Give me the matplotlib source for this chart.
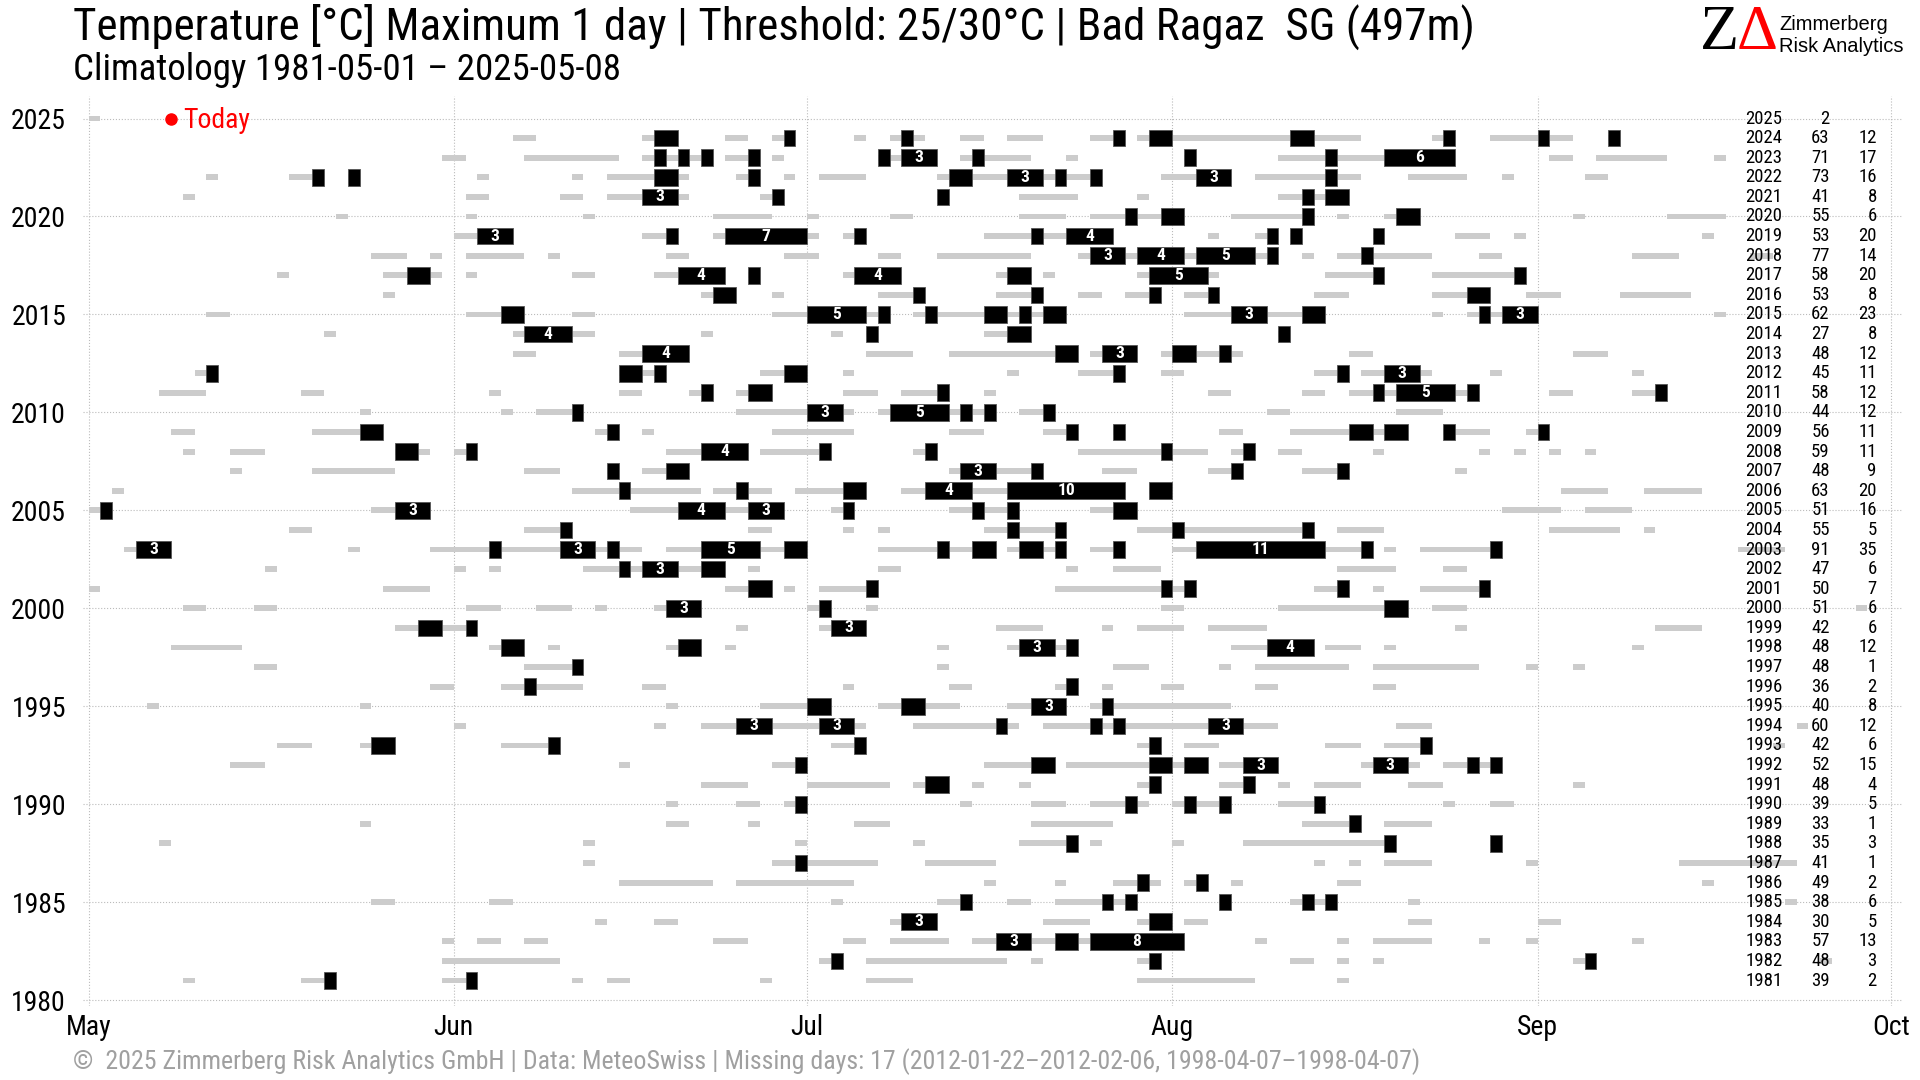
import matplotlib
matplotlib.use("Agg")
import matplotlib.pyplot as plt
from matplotlib import font_manager

# pick a condensed face if there is one
names = {f.name for f in font_manager.fontManager.ttflist}
font = next((n for n in ["Roboto Condensed", "Liberation Sans Narrow", "Roboto"] if n in names), "DejaVu Sans")
plt.rcParams["font.family"] = [font, "DejaVu Sans"]

# day index: 0 = 1 May
month_ticks = [0, 31, 61, 92, 123, 153]
month_labels = ["May", "Jun", "Jul", "Aug", "Sep", "Oct"]

years = list(range(2025, 1980, -1))
n25 = [2, 63, 71, 73, 41, 55, 53, 77, 58, 53, 62, 27, 48, 45, 58, 44, 56, 59, 48, 63, 51, 55, 91,
       47, 50, 51, 42, 48, 48, 36, 40, 60, 42, 52, 48, 39, 33, 35, 41, 49, 38, 30, 57, 48, 39]
n30 = [None, 12, 17, 16, 8, 6, 20, 14, 20, 8, 23, 8, 12, 11, 12, 12, 11, 11, 9, 20, 16, 5, 35,
       6, 7, 6, 6, 12, 1, 2, 8, 12, 6, 15, 4, 5, 1, 3, 1, 2, 6, 5, 13, 3, 2]

# runs of days >= 25 C: (start day, length)
warm_runs = {
    2025: [(0, 1)],
    2024: [(36, 2), (47, 3), (54, 2), (58, 2), (65, 1), (68, 3), (74, 2), (78, 3), (85, 3), (89, 19), (114, 2), (119, 7), (129, 1)],
    2023: [(30, 2), (37, 8), (47, 6), (54, 3), (58, 1), (67, 5), (74, 6), (83, 1), (93, 1), (101, 15), (124, 2), (128, 6), (138, 1)],
    2022: [(10, 1), (17, 3), (22, 1), (33, 1), (41, 1), (44, 7), (55, 2), (59, 1), (62, 4), (72, 14), (91, 6), (99, 9), (112, 5), (120, 1), (127, 2)],
    2021: [(8, 1), (32, 2), (40, 2), (44, 7), (57, 2), (72, 1), (79, 5), (89, 1), (101, 6)],
    2020: [(21, 1), (32, 1), (42, 1), (53, 5), (61, 1), (68, 2), (79, 4), (85, 8), (97, 7), (106, 1), (110, 3), (126, 1), (134, 5)],
    2019: [(31, 5), (47, 3), (53, 9), (64, 2), (76, 11), (95, 1), (99, 2), (102, 1), (109, 1), (116, 3), (121, 1), (137, 1)],
    2018: [(24, 3), (29, 1), (32, 5), (39, 1), (49, 2), (59, 3), (67, 2), (72, 8), (84, 17), (103, 1), (106, 8), (118, 2), (131, 4), (141, 2)],
    2017: [(16, 1), (25, 5), (32, 1), (41, 2), (48, 6), (56, 1), (64, 5), (77, 3), (81, 1), (89, 7), (105, 5), (114, 8)],
    2016: [(25, 1), (52, 3), (58, 1), (67, 4), (77, 4), (84, 2), (88, 3), (93, 3), (104, 3), (114, 5), (122, 3), (130, 6)],
    2015: [(10, 2), (32, 5), (41, 2), (58, 10), (70, 13), (93, 12), (114, 1), (117, 6), (138, 1)],
    2014: [(20, 1), (36, 7), (52, 1), (63, 1), (66, 1), (76, 4), (101, 1)],
    2013: [(36, 2), (45, 6), (66, 4), (73, 11), (85, 4), (91, 7), (107, 2), (126, 3)],
    2012: [(9, 2), (45, 4), (57, 4), (64, 1), (78, 1), (84, 4), (91, 2), (104, 3), (108, 6), (119, 1), (131, 1)],
    2011: [(6, 4), (18, 2), (34, 1), (45, 2), (51, 2), (55, 3), (64, 3), (69, 4), (76, 1), (95, 2), (103, 2), (107, 11), (124, 2), (131, 3)],
    2010: [(23, 1), (35, 1), (38, 4), (55, 10), (67, 10), (79, 3), (100, 2), (111, 4)],
    2009: [(7, 2), (19, 6), (43, 2), (47, 1), (58, 7), (73, 3), (81, 3), (87, 1), (96, 2), (102, 10), (115, 4), (122, 2)],
    2008: [(8, 1), (12, 3), (26, 3), (31, 2), (49, 7), (57, 6), (70, 2), (84, 11), (97, 2), (101, 2), (109, 1), (118, 1), (121, 1), (124, 1), (127, 1)],
    2007: [(12, 1), (19, 7), (37, 3), (44, 1), (47, 4), (73, 8), (86, 3), (95, 3), (103, 4), (116, 1)],
    2006: [(2, 1), (41, 11), (53, 5), (60, 6), (69, 19), (90, 2), (125, 4), (132, 5)],
    2005: [(0, 2), (24, 5), (46, 13), (63, 2), (73, 6), (85, 4), (120, 5), (127, 4)],
    2004: [(17, 2), (37, 4), (56, 2), (64, 1), (67, 1), (76, 7), (89, 15), (106, 4), (124, 6), (132, 1)],
    2003: [(3, 4), (22, 1), (29, 18), (49, 12), (67, 10), (78, 5), (85, 3), (92, 17), (110, 1), (113, 7), (140, 4)],
    2002: [(15, 1), (31, 1), (34, 1), (42, 12), (56, 1), (67, 2), (83, 1), (87, 4), (106, 5), (115, 2)],
    2001: [(0, 1), (25, 4), (54, 4), (59, 1), (62, 5), (82, 12), (104, 3), (109, 1), (113, 6)],
    2000: [(8, 2), (14, 2), (32, 3), (38, 3), (43, 1), (48, 4), (61, 2), (66, 1), (91, 2), (101, 11), (114, 3), (150, 1)],
    1999: [(26, 7), (55, 1), (62, 4), (77, 4), (86, 1), (89, 4), (95, 5), (116, 1), (133, 4)],
    1998: [(7, 6), (34, 3), (39, 1), (49, 3), (54, 1), (72, 1), (78, 6), (97, 7), (105, 3), (110, 1), (131, 1)],
    1997: [(14, 2), (37, 5), (72, 1), (87, 3), (96, 1), (99, 8), (109, 9), (122, 1), (126, 1)],
    1996: [(29, 2), (35, 7), (47, 2), (64, 1), (73, 2), (82, 2), (86, 1), (91, 2), (99, 2), (109, 2)],
    1995: [(5, 1), (23, 1), (49, 1), (57, 6), (67, 7), (78, 5), (85, 12)],
    1994: [(31, 1), (48, 1), (52, 14), (70, 9), (81, 20), (111, 3), (145, 1)],
    1993: [(16, 3), (23, 3), (35, 5), (63, 3), (89, 2), (93, 3), (105, 3), (110, 4), (143, 1)],
    1992: [(12, 3), (45, 1), (58, 3), (76, 6), (83, 12), (96, 5), (108, 5), (115, 5)],
    1991: [(52, 4), (61, 7), (70, 3), (75, 1), (79, 1), (89, 2), (96, 3), (101, 1), (104, 4), (112, 3), (126, 1)],
    1990: [(49, 1), (55, 2), (59, 2), (74, 1), (80, 3), (85, 5), (92, 5), (101, 4), (115, 1), (119, 2)],
    1989: [(23, 1), (49, 2), (56, 1), (65, 3), (80, 7), (103, 5), (110, 4)],
    1988: [(6, 1), (42, 1), (60, 1), (70, 1), (79, 5), (85, 1), (92, 1), (98, 13), (119, 1)],
    1987: [(42, 1), (58, 9), (71, 6), (104, 1), (107, 1), (110, 4), (122, 1), (135, 10)],
    1986: [(45, 8), (55, 10), (76, 1), (82, 1), (87, 4), (93, 2), (97, 1), (106, 2), (137, 1)],
    1985: [(24, 2), (34, 2), (63, 1), (72, 3), (78, 2), (82, 7), (96, 1), (102, 4), (112, 1), (144, 1)],
    1984: [(43, 1), (48, 2), (68, 4), (81, 4), (89, 3), (93, 2), (112, 2), (123, 2)],
    1983: [(30, 1), (33, 2), (37, 2), (53, 3), (64, 2), (68, 5), (75, 18), (99, 1), (106, 1), (109, 5), (118, 1), (122, 1), (131, 1)],
    1982: [(30, 10), (62, 2), (66, 12), (80, 1), (89, 2), (102, 2), (106, 1), (109, 1), (126, 2), (147, 1)],
    1981: [(8, 1), (18, 3), (30, 3), (41, 1), (44, 2), (57, 1), (66, 4), (89, 10), (106, 1)],
}

# runs of days >= 30 C: (start day, length)
hot_runs = {
    2024: [(48, 2), (59, 1), (69, 1), (87, 1), (90, 2), (102, 2), (115, 1), (123, 1), (129, 1)],
    2023: [(48, 1), (50, 1), (52, 1), (56, 1), (67, 1), (69, 3), (75, 1), (93, 1), (105, 1), (110, 6)],
    2022: [(19, 1), (22, 1), (48, 2), (56, 1), (73, 2), (78, 3), (82, 1), (85, 1), (94, 3), (105, 1)],
    2021: [(47, 3), (58, 1), (72, 1), (103, 1), (105, 2)],
    2020: [(88, 1), (91, 2), (103, 1), (111, 2)],
    2019: [(33, 3), (49, 1), (54, 7), (65, 1), (80, 1), (83, 4), (100, 1), (102, 1), (109, 1)],
    2018: [(85, 3), (89, 4), (94, 5), (100, 1), (108, 1)],
    2017: [(27, 2), (50, 4), (56, 1), (65, 4), (78, 2), (90, 5), (109, 1), (121, 1)],
    2016: [(53, 2), (70, 1), (80, 1), (90, 1), (95, 1), (117, 2)],
    2015: [(35, 2), (61, 5), (67, 1), (71, 1), (76, 2), (79, 1), (81, 2), (97, 3), (103, 2), (118, 1), (120, 3)],
    2014: [(37, 4), (66, 1), (78, 2), (101, 1)],
    2013: [(47, 4), (82, 2), (86, 3), (92, 2), (96, 1)],
    2012: [(10, 1), (45, 2), (48, 1), (59, 2), (87, 1), (106, 1), (110, 3)],
    2011: [(52, 1), (56, 2), (72, 1), (109, 1), (111, 5), (117, 1), (133, 1)],
    2010: [(41, 1), (61, 3), (68, 5), (74, 1), (76, 1), (81, 1)],
    2009: [(23, 2), (44, 1), (83, 1), (87, 1), (107, 2), (110, 2), (115, 1), (123, 1)],
    2008: [(26, 2), (32, 1), (52, 4), (62, 1), (71, 1), (91, 1), (98, 1)],
    2007: [(44, 1), (49, 2), (74, 3), (80, 1), (97, 1), (106, 1)],
    2006: [(45, 1), (55, 1), (64, 2), (71, 4), (78, 10), (90, 2)],
    2005: [(1, 1), (26, 3), (50, 4), (56, 3), (64, 1), (75, 1), (78, 1), (87, 2)],
    2004: [(40, 1), (78, 1), (82, 1), (92, 1), (103, 1)],
    2003: [(4, 3), (34, 1), (40, 3), (44, 1), (52, 5), (59, 2), (72, 1), (75, 2), (79, 2), (82, 1), (87, 1), (94, 11), (108, 1), (119, 1)],
    2002: [(45, 1), (47, 3), (52, 2)],
    2001: [(56, 2), (66, 1), (91, 1), (93, 1), (106, 1), (118, 1)],
    2000: [(49, 3), (62, 1), (110, 2)],
    1999: [(28, 2), (32, 1), (63, 3)],
    1998: [(35, 2), (50, 2), (79, 3), (83, 1), (100, 4)],
    1997: [(41, 1)],
    1996: [(37, 1), (83, 1)],
    1995: [(61, 2), (69, 2), (80, 3), (86, 1)],
    1994: [(55, 3), (62, 3), (77, 1), (85, 1), (87, 1), (95, 3)],
    1993: [(24, 2), (39, 1), (65, 1), (90, 1), (113, 1)],
    1992: [(60, 1), (80, 2), (90, 2), (93, 2), (98, 3), (109, 3), (117, 1), (119, 1)],
    1991: [(71, 2), (90, 1), (98, 1)],
    1990: [(60, 1), (88, 1), (93, 1), (96, 1), (104, 1)],
    1989: [(107, 1)],
    1988: [(83, 1), (110, 1), (119, 1)],
    1987: [(60, 1)],
    1986: [(89, 1), (94, 1)],
    1985: [(74, 1), (86, 1), (88, 1), (96, 1), (103, 1), (105, 1)],
    1984: [(69, 3), (90, 2)],
    1983: [(77, 3), (82, 2), (85, 8)],
    1982: [(63, 1), (90, 1), (127, 1)],
    1981: [(20, 1), (32, 1)],
}

today_day = 7
today_year = 2025

fig = plt.figure(figsize=(19.2, 10.8), dpi=100)
ax = fig.add_axes([82.7 / 1920, 74 / 1080, 1820 / 1920, 910 / 1080])

for yr, runs in warm_runs.items():
    for start, length in runs:
        ax.barh(yr, length, left=start, height=0.3, color="#cccccc", zorder=2)

for yr, runs in hot_runs.items():
    for start, length in runs:
        ax.barh(yr, length, left=start, height=0.85, color="black",
                edgecolor="#555555", linewidth=0.6, zorder=3)
        if length >= 3:
            ax.text(start + length / 2, yr, str(length), color="white", ha="center",
                    va="center", fontsize=12.5, fontweight="bold", zorder=4)

# summary table on the right
for yr, a, b in zip(years, n25, n30):
    ax.text(143.8, yr, str(yr), ha="right", va="center", fontsize=13.5, zorder=5)
    ax.text(147.8, yr, str(a), ha="right", va="center", fontsize=13.5, zorder=5)
    if b is not None:
        ax.text(151.8, yr, str(b), ha="right", va="center", fontsize=13.5, zorder=5)

ax.plot(today_day, today_year, "o", color="red", ms=8, zorder=5)
ax.text(today_day + 1.0, today_year - 0.1, "Today", color="red", fontsize=20, va="center", zorder=5)

ax.set_xlim(-0.5, 154)
ax.set_ylim(1979.7, 2026.15)
ax.set_xticks(month_ticks)
ax.set_xticklabels(month_labels)
ax.set_yticks(range(1980, 2026, 5))
ax.tick_params(axis="both", length=0, labelsize=20)
ax.tick_params(axis="y", pad=12)
ax.tick_params(axis="x", pad=6)
ax.grid(color="#bbbbbb", linestyle=":", linewidth=0.8, zorder=0)
ax.set_axisbelow(True)
for s in ax.spines.values():
    s.set_visible(False)

fig.text(73 / 1920, 1 - 27 / 1080, "Temperature [°C] Maximum 1 day | Threshold: 25/30°C | Bad Ragaz  SG (497m)",
         fontsize=32.4, va="center")
fig.text(73 / 1920, 1 - 70 / 1080, "Climatology 1981-05-01 – 2025-05-08", fontsize=26.6, va="center")
fig.text(73 / 1920, 1 - 1062 / 1080,
         "©  2025 Zimmerberg Risk Analytics GmbH | Data: MeteoSwiss | Missing days: 17 "
         "(2012-01-22–2012-02-06, 1998-04-07–1998-04-07)",
         fontsize=18.6, color="#a0a0a0", va="center")

# logo
fig.text(1700 / 1920, 1 - 34 / 1080, "Z", family=["Liberation Serif", "DejaVu Serif"],
         fontsize=46, va="center", ha="left")
fig.text(1737 / 1920, 1 - 34 / 1080, "Δ", family=["Liberation Serif", "DejaVu Serif"],
         fontsize=46, va="center", ha="left", color="red")
fig.text(1779 / 1920, 1 - 24 / 1080, "Zimmerberg", family=["Liberation Sans", "DejaVu Sans"],
         fontsize=14.5, va="center")
fig.text(1779 / 1920, 1 - 46 / 1080, "Risk Analytics", family=["Liberation Sans", "DejaVu Sans"],
         fontsize=14.5, va="center")

fig.savefig("out.png", dpi=100)
